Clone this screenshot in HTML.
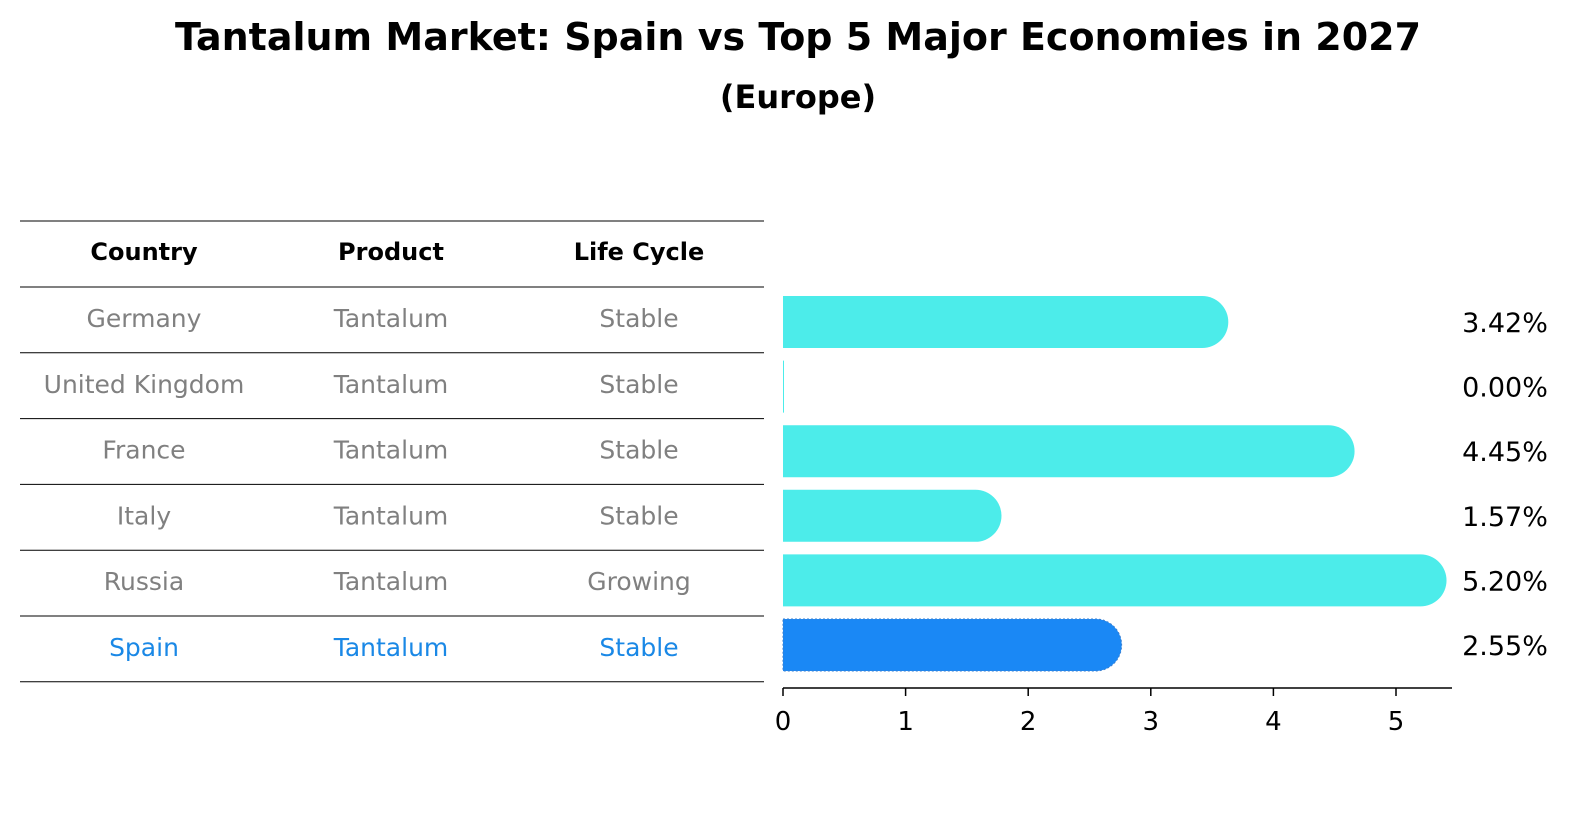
<!DOCTYPE html>
<html><head><meta charset="utf-8"><style>
body{margin:0;background:#fff;}
svg text{font-family:"DejaVu Sans","Liberation Sans",sans-serif;}
</style></head><body>
<svg width="1586" height="823" xmlns="http://www.w3.org/2000/svg">
<text x="798" y="50" text-anchor="middle" font-size="38" font-weight="bold">Tantalum Market: Spain vs Top 5 Major Economies in 2027</text>
<text x="798" y="108" text-anchor="middle" font-size="32" font-weight="bold">(Europe)</text>
<g id="table"></g>
<g id="bars"></g>
</svg>
<script>
const countries=["Germany","United Kingdom","France","Italy","Russia","Spain"];
const products=["Tantalum","Tantalum","Tantalum","Tantalum","Tantalum","Tantalum"];
const lifeCycles=["Stable","Stable","Stable","Stable","Growing","Stable"];
const values=[3.42,0.00,4.45,1.57,5.20,2.55];
const ticks=[0,1,2,3,4,5];
const NS="http://www.w3.org/2000/svg";
function mk(p,t,a,txt){const e=document.createElementNS(NS,t);for(const k in a)e.setAttribute(k,a[k]);if(txt!==undefined)e.textContent=txt;p.appendChild(e);return e;}
const tb=document.getElementById('table');
const rowY=i=>287+i*65.8;
const cols=[144,391,639];
const hdrs=["Country","Product","Life Cycle"];
let l=mk(tb,'line',{x1:20,x2:764,y1:221,y2:221,stroke:'#000','stroke-width':1});


hdrs.forEach((h,j)=>{const t=mk(tb,'text',{x:cols[j],y:260,'text-anchor':'middle','font-size':24,'font-weight':'bold'},h);

});
for(let i=0;i<=countries.length;i++){const ln=mk(tb,'line',{x1:20,x2:764,y1:rowY(i),y2:rowY(i),stroke:'#000','stroke-width':1});

}
countries.forEach((c,i)=>{const col=c==="Spain"?'#1a88e6':'#808080';const y=rowY(i)+40;
[c,products[i],lifeCycles[i]].forEach((v,j)=>{const t=mk(tb,'text',{x:cols[j],y:y,'text-anchor':'middle','font-size':25,fill:col},v);

});});
const bg=document.getElementById('bars');
const x0=783,ppu=122.6;const X=v=>x0+v*ppu;
const barY=i=>322+i*64.6;const h=52,r=26;
values.forEach((v,i)=>{const spain=countries[i]==="Spain";const col=spain?'#1a88f5':'#4cecea';const w=X(v)-x0;const yc=barY(i);
let d;if(w<=0.5){d=`M${x0},${yc-h/2}h1v${h}h-1z`;}else{d=`M${x0},${yc-h/2}H${x0+w}A${r},${r} 0 0 1 ${x0+w},${yc+h/2}H${x0}Z`;}
const p=mk(bg,'path',{d:d,fill:col});
if(spain){p.setAttribute('stroke','#3a7fd0');p.setAttribute('stroke-dasharray','2,2');}


const t=mk(bg,'text',{x:1505,y:yc+10,'text-anchor':'middle','font-size':27},v.toFixed(2)+'%');

});
const ax=mk(bg,'line',{x1:x0,x2:1452,y1:688,y2:688,stroke:'#000','stroke-width':1.5});


ticks.forEach(tk=>{const tl=mk(bg,'line',{x1:X(tk),x2:X(tk),y1:688,y2:696,stroke:'#000','stroke-width':1.5});


const t=mk(bg,'text',{x:X(tk),y:730,'text-anchor':'middle','font-size':26},String(tk));

});
</script>
</body></html>
